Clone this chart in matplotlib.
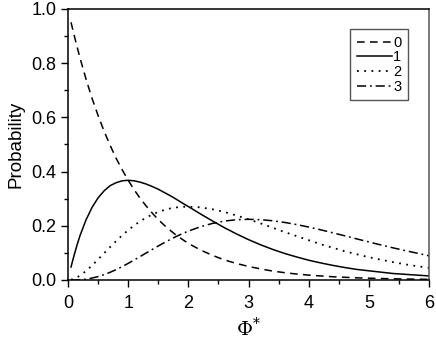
import matplotlib
matplotlib.use("Agg")
import matplotlib.pyplot as plt
from matplotlib.ticker import MultipleLocator

plt.rcParams['font.family'] = ['Liberation Sans', 'DejaVu Sans']

# values
phi = [0.05, 0.1, 0.15, 0.2, 0.3, 0.4, 0.5, 0.6, 0.7, 0.8, 0.9, 1.0, 1.1, 1.2, 1.3,
       1.4, 1.5, 1.6, 1.7, 1.8, 1.9, 2.0, 2.2, 2.4, 2.6, 2.8, 3.0, 3.2, 3.4, 3.6,
       3.8, 4.0, 4.2, 4.4, 4.6, 4.8, 5.0, 5.2, 5.4, 5.6, 5.8, 6.0]
p0 = [0.951, 0.905, 0.861, 0.819, 0.741, 0.670, 0.607, 0.549, 0.497, 0.449, 0.407,
      0.368, 0.333, 0.301, 0.273, 0.247, 0.223, 0.202, 0.183, 0.165, 0.150, 0.135,
      0.111, 0.091, 0.074, 0.061, 0.050, 0.041, 0.033, 0.027, 0.022, 0.018, 0.015,
      0.012, 0.010, 0.008, 0.0067, 0.0055, 0.0045, 0.0037, 0.0030, 0.0025]
p1 = [0.048, 0.090, 0.129, 0.164, 0.222, 0.268, 0.303, 0.329, 0.348, 0.359, 0.366,
      0.368, 0.366, 0.361, 0.354, 0.345, 0.335, 0.323, 0.311, 0.298, 0.284, 0.271,
      0.244, 0.218, 0.193, 0.170, 0.149, 0.130, 0.113, 0.098, 0.085, 0.073, 0.063,
      0.054, 0.046, 0.039, 0.034, 0.029, 0.024, 0.021, 0.018, 0.015]
p2 = [0.0012, 0.0045, 0.0097, 0.0164, 0.0333, 0.0536, 0.0758, 0.0988, 0.1217,
      0.1438, 0.1647, 0.1839, 0.2014, 0.2169, 0.2303, 0.2417, 0.2510, 0.2584,
      0.2640, 0.2678, 0.2700, 0.2707, 0.268, 0.261, 0.251, 0.238, 0.224, 0.209,
      0.193, 0.177, 0.162, 0.147, 0.132, 0.119, 0.106, 0.095, 0.084, 0.075, 0.066,
      0.058, 0.051, 0.045]
p3 = [0.00002, 0.00015, 0.0005, 0.0011, 0.0033, 0.0072, 0.0126, 0.0198, 0.0284,
      0.0383, 0.0494, 0.0613, 0.0738, 0.0867, 0.0998, 0.1128, 0.1255, 0.1378,
      0.1496, 0.1607, 0.1710, 0.1804, 0.1964, 0.2087, 0.2174, 0.2225, 0.2240,
      0.2226, 0.2186, 0.2125, 0.2046, 0.1954, 0.1852, 0.1743, 0.1631, 0.1517,
      0.1404, 0.1294, 0.1188, 0.1087, 0.0991, 0.0892]
labels = ['0', '1', '2', '3']

fig = plt.figure(figsize=(4.36, 3.39), dpi=100)
ax = fig.add_axes([68/436, 1-280/339, (429-68)/436, (280-9)/339])

ax.plot(phi, p0, 'k', ls=(0, (5, 3.5)), lw=1.1, label=labels[0])
ax.plot(phi, p1, 'k', ls='-', lw=1.1, label=labels[1])
ax.plot(phi, p2, 'k', ls=(0, (1, 3)), lw=1.3, label=labels[2])
ax.plot(phi, p3, 'k', ls=(0, (6, 2.5, 1.2, 2.5)), lw=1.1, label=labels[3])

ax.set_xlim(0, 6)
ax.set_ylim(0, 1.0)
ax.xaxis.set_major_locator(MultipleLocator(1))
ax.xaxis.set_minor_locator(MultipleLocator(0.5))
ax.yaxis.set_major_locator(MultipleLocator(0.2))
ax.yaxis.set_minor_locator(MultipleLocator(0.1))
ax.yaxis.set_major_formatter(plt.FormatStrFormatter('%.1f'))
ax.tick_params(which='both', direction='out', top=False, right=False,
               labelsize=13, width=1)
ax.tick_params(axis='x', pad=6)
ax.tick_params(which='major', length=5)
ax.tick_params(which='minor', length=3)
for s in ax.spines.values():
    s.set_linewidth(1.1)
ax.spines['right'].set_color('#555555')

ax.set_xlabel(r'$\Phi^{*}$', fontsize=14, math_fontfamily='dejavuserif', labelpad=3)
ax.set_ylabel('Probability', fontsize=13.5, labelpad=5)

leg = ax.legend(loc='upper right', bbox_to_anchor=(0.942, 0.926), fontsize=10.5,
                handlelength=2.4, handletextpad=0.1, labelspacing=0.05,
                borderpad=0.45, borderaxespad=0, fancybox=False, framealpha=1)
leg.get_frame().set_edgecolor('#555555')
leg.get_frame().set_linewidth(1)

fig.savefig('out.png', dpi=100)
